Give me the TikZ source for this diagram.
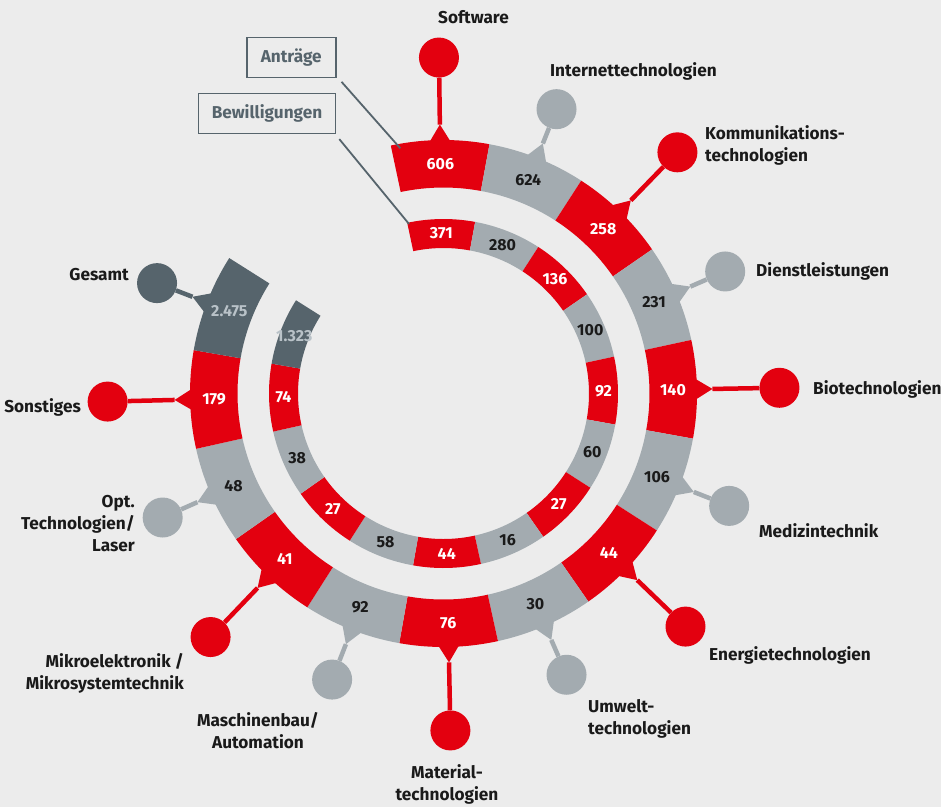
\documentclass[tikz,border=0pt]{standalone}
\usepackage{fontspec}
\setmainfont{Fira Sans}
\usetikzlibrary{calc}
\definecolor{bg}{HTML}{ECECEC}
\definecolor{rd}{HTML}{E3000F}
\definecolor{gy}{HTML}{A3ABB0}
\definecolor{dk}{HTML}{56646C}
\definecolor{lt}{HTML}{B9C2C8}
\definecolor{txt}{HTML}{1A1A1A}
\tikzset{
  numlbl/.style={font=\fontsize{16}{18}\selectfont\bfseries, inner sep=0pt},
  catlbl/.style={font=\fontsize{17.2}{22}\selectfont\bfseries, text=txt, inner sep=0pt},
  pinball/.style={circle, minimum size=40pt, inner sep=0pt},
  keybox/.style={draw=dk, line width=1.6pt, text=dk, font=\fontsize{17.2}{18}\selectfont\bfseries, minimum height=40pt, inner sep=0pt},
  keyline/.style={draw=dk, line width=1.8pt},
}
\begin{document}
\begin{tikzpicture}[x=1pt,y=1pt]
\fill[bg] (0,0) rectangle (941,-807);
\useasboundingbox (0,0) rectangle (941,-807);
\coordinate (C) at (443.5,-393.5);
\foreach \k/\va/\vb/\col/\tc/\rp in {0/606/371/rd/white/336, 1/624/280/gy/txt/306, 2/258/136/rd/white/336, 3/231/100/gy/txt/307, 4/140/92/rd/white/336, 5/106/60/gy/txt/307, 6/44/27/rd/white/336, 7/30/16/gy/txt/307, 8/76/44/rd/white/337, 9/92/58/gy/txt/307, 10/41/27/rd/white/337, 11/48/38/gy/txt/307, 12/179/74/rd/white/336, 13/2.475/1.323/dk/lt/307}{
  \pgfmathsetmacro\aa{102-22.45*\k}
  \pgfmathsetmacro\ab{\aa-22.45}
  \pgfmathsetmacro\am{\aa-11.225}
  \pgfmathsetmacro\aL{\am+2.7}
  \pgfmathsetmacro\aR{\am-2.7}
  \fill[fill=\col] ($(C)+(\aa:206)$) arc[start angle=\aa,end angle=\ab,radius=206] -- ($(C)+(\ab:253.5)$) arc[start angle=\ab,end angle=\aa,radius=253.5] -- cycle;
  \fill[fill=\col] ($(C)+(\aa:145.5)$) arc[start angle=\aa,end angle=\ab,radius=145.5] -- ($(C)+(\ab:174.5)$) arc[start angle=\ab,end angle=\aa,radius=174.5] -- cycle;
  \fill[fill=\col] ($(C)+(\aL:250)$) -- ($(C)+(\am:269)$) coordinate (n\k) -- ($(C)+(\aR:250)$) -- cycle;
  \node[pinball,fill=\col] (p\k) at ($(C)+(\am:\rp)$) {};
  \draw[draw=\col,line width=4.5pt] (n\k) -- (p\k);
  \node[numlbl,text=\tc] (o\k) at ($(C)+(\am:229.5)$) {\va};
  \node[numlbl,text=\tc] (i\k) at ($(C)+(\am:160)$) {\vb};
}
% category labels
\node[catlbl] (lSoft) at (473.5,-17) {Software};
\node[catlbl,anchor=west] (lInt) at (550,-71) {Internettechnologien};
\node[catlbl,anchor=west,align=left] (lKom) at (705,-145) {Kommunikations-\\technologien};
\node[catlbl,anchor=west] (lDie) at (756,-271) {Dienstleistungen};
\node[catlbl,anchor=west] (lBio) at (813,-389) {Biotechnologien};
\node[catlbl,anchor=west] (lMed) at (759,-531) {Medizintechnik};
\node[catlbl,anchor=west] (lEne) at (709,-655) {Energietechnologien};
\node[catlbl,anchor=west,align=left] (lUmw) at (588,-719) {Umwelt-\\technologien};
\node[catlbl,align=center] (lMat) at (447,-784) {Material-\\technologien};
\node[catlbl,align=center] (lMas) at (258,-731) {Maschinenbau/\\Automation};
\node[catlbl,anchor=east,align=right] (lMik) at (184,-673) {Mikroelektronik /\\Mikrosystemtechnik};
\node[catlbl,anchor=east,align=right] (lOpt) at (135,-524) {Opt.\\Technologien/\\Laser};
\node[catlbl,anchor=east] (lSon) at (81,-407) {Sonstiges};
\node[catlbl,anchor=east] (lGes) at (129,-275) {Gesamt};
% key boxes
\node[keybox,minimum width=89pt] (ant) at (291.2,-57.5) {Antr\"age};
\node[keybox,minimum width=137pt] (bew) at (267,-113.3) {Bewilligungen};
\coordinate (antEnd) at ($(C)+(100:249)$);
\coordinate (bewEnd) at ($(C)+(101.5:173)$);
\draw[keyline] ([shift={(5,-3.5)}]ant.south east) -- (antEnd);
\draw[keyline] ([shift={(3,-5)}]bew.south east) -- (bewEnd);
\end{tikzpicture}
\end{document}
